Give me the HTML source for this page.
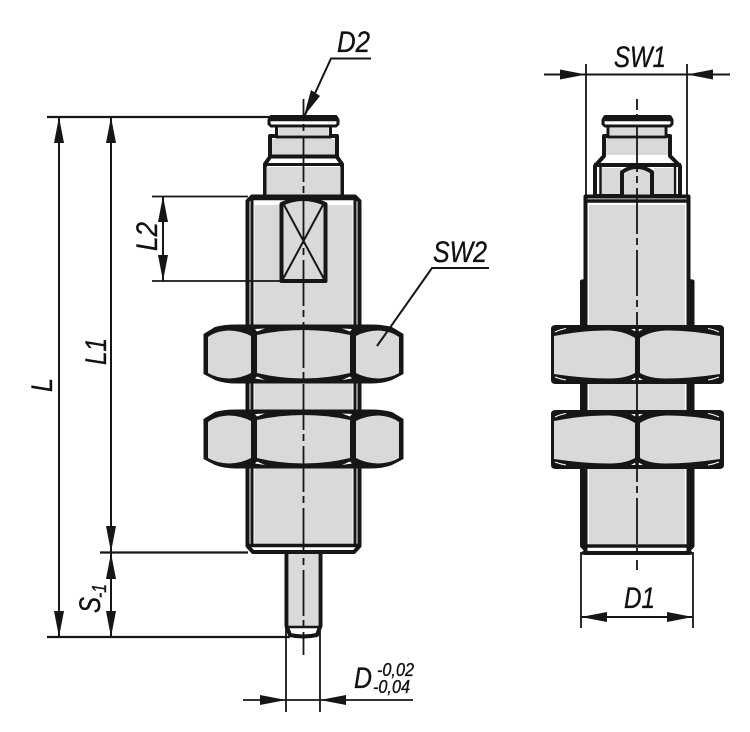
<!DOCTYPE html>
<html><head><meta charset="utf-8"><style>
html,body{margin:0;padding:0;background:#fff}
svg{display:block}
text{font-family:"Liberation Sans",sans-serif;font-style:italic;fill:#111;stroke:#111;stroke-width:.35}
</style></head><body>
<svg width="750" height="732" viewBox="0 0 750 732" xmlns="http://www.w3.org/2000/svg">
<defs>
<g id="nutL">
<path d="M203.500,334 L215,327 Q224,324.500 236,324.500 L371,324.500 Q383,324.500 392,327 L403.500,334 L403.500,374 L392,380 Q383,383.500 371,383.500 L236,383.500 Q224,383.500 215,380 L203.500,374Z" fill="#161616"/>
<path d="M208,337 Q216,331 229,330.500 Q242,331 251,336 L251,373 Q242,378 229,378.500 Q216,378 208,373Z" fill="#d9d9d9"/>
<path d="M257,335 Q280,330 303.500,330 Q327,330 350,335 L350,373 Q327,378.500 303.500,378.500 Q280,378.500 257,373Z" fill="#d9d9d9"/>
<path d="M356,336 Q365,331 378,330.500 Q391,331 399,337 L399,373 Q391,378 378,378.500 Q365,378 356,373Z" fill="#d9d9d9"/>
<path d="M255,329 L265,328.500 L257,331.500Z M352,329 L342,328.500 L350,331.500Z M255,378.500 L265,380 L257,376.500Z M352,378.500 L342,380 L350,376.500Z" fill="#fff"/>
</g>
<g id="nutR">
<path d="M551,329 Q551,325 556,325 L719,325 Q724,325 724,329 L724,380 Q724,384 719,384 L556,384 Q551,384 551,380Z" fill="#161616"/>
<path d="M554,336 Q585,330 610,330.500 Q625,331.500 635,338 L635,373 Q625,378.500 610,378.500 Q585,378.500 554,374Z" fill="#d9d9d9"/>
<path d="M720,336 Q690,330 665,330.500 Q650,331.500 640,338 L640,373 Q650,378.500 665,378.500 Q690,378.500 720,374Z" fill="#d9d9d9"/>
<path d="M631,329 L643,329 L637,332.500Z M631,380 L643,380 L637,376.500Z" fill="#fff"/>
<path d="M555,332 Q560,329.500 566,328.500 M719,332 Q714,329.500 708,328.500 M555,377 Q560,379 566,380 M719,377 Q714,379 708,380" stroke="#fff" stroke-width="1" fill="none"/>
</g>
</defs>

<!-- LEFT VIEW -->
<g fill="none" stroke="#161616" stroke-width="4" stroke-linejoin="round">
<!-- pin -->
<path d="M286.500,552 L286.500,626 L290,635 Q303,638 317,635 L320.500,626 L320.500,552" fill="#fff"/>
<rect x="289" y="553" width="29" height="73" fill="#d9d9d9" stroke="none"/>
<path d="M286,627 L321,627" stroke-width="2.500"/>
<path d="M291,634 Q303,637 316,634 L316,636 L291,636Z" fill="#161616" stroke-width="1.500"/>
<!-- cap & upper -->
<path d="M270,136 V157 L265,164 V196 H342 V164 L337,157 V136Z" fill="#fff"/>
<rect x="272" y="139" width="63" height="16" fill="#d9d9d9" stroke="none"/>
<rect x="266.500" y="167" width="74" height="28" fill="#d9d9d9" stroke="none"/>
<path d="M270,156.500 H337" />
<path d="M267,164.500 H340" stroke-width="3"/>
<rect x="276.500" y="125" width="54" height="12" fill="#fff" stroke-width="3"/>
<rect x="278.500" y="128" width="50" height="7" fill="#d9d9d9" stroke="none"/>
<path d="M271,116.500 H336 L338,120 V124 L336,126 H271 L269,124 V120Z" fill="#fff" stroke-width="3"/>
<path d="M270,117.500 H337 V120 H270Z" fill="#161616" stroke-width="2.500"/>
<!-- body -->
<path d="M252,196.500 H355 L359.500,201 V546 L354,552 H253 L247.500,546 V201Z" fill="#fff"/>
<rect x="254.500" y="205" width="98" height="339" fill="#d9d9d9" stroke="none"/>
<path d="M252,199 V546 M355,199 V546" stroke-width="3"/>
<path d="M248,545.500 H359" stroke-width="3.500"/>
<!-- flat -->
<path d="M281.500,204 Q303,194 325.500,204 V281 H281.500Z" fill="#d9d9d9"/>
<path d="M283,203 L324,279 M324,203 L283,279" stroke-width="2"/>
<path d="M250,198.500 H357" stroke-width="3.500"/>
</g>
<use href="#nutL"/>
<use href="#nutL" y="85"/>

<!-- RIGHT VIEW -->
<g fill="none" stroke="#161616" stroke-width="4" stroke-linejoin="round">
<path d="M604,136 V156 L595,166 V196 H680 V166 L670,156 V136Z" fill="#fff"/>
<rect x="606" y="139" width="62" height="16" fill="#d9d9d9" stroke="none"/>
<rect x="602" y="168" width="19" height="26" fill="#d9d9d9" stroke="none"/>
<rect x="654" y="168" width="19" height="26" fill="#d9d9d9" stroke="none"/>
<path d="M594,165 H681"/>
<path d="M600.500,166 V195 M675,166 V195" stroke-width="2.500"/>
<path d="M622,195 V172 Q637,162 652,172 V195" fill="#d9d9d9"/>
<rect x="608" y="126" width="58" height="11" fill="#fff" stroke-width="3"/>
<rect x="610" y="128" width="54" height="7" fill="#d9d9d9" stroke="none"/>
<path d="M605,116.500 H670 L672,120 V124 L670,126 H605 L603,124 V120Z" fill="#fff" stroke-width="3"/>
<path d="M604,117.500 H671 V120 H604Z" fill="#161616" stroke-width="2.500"/>
<!-- body -->
<path d="M585.500,281 L582,281.500 V546 L589,553 H686 L692.500,546 V281.500 L688.500,281" fill="#fff"/>
<path d="M585.500,196.500 H688.500 V553 H585.500Z" fill="#fff"/>
<rect x="589" y="205" width="96" height="339" fill="#d9d9d9" stroke="none"/>
<path d="M582,281.500 H586 M688,281.500 H692.500" stroke-width="3"/>
<path d="M585,201 H689" stroke-width="3.500"/>
<path d="M582,546 H692.500" stroke-width="3.500"/>
<path d="M582,553 H692" stroke-width="3.500"/>
</g>
<use href="#nutR"/>
<use href="#nutR" y="85"/>
<path d="M637,325 V384 M637,410 V469" stroke="#161616" stroke-width="3.500"/>

<!-- center lines -->
<path d="M303.500,99 V655" stroke="#161616" stroke-width="1.800" fill="none" stroke-dasharray="46 4 7 5" stroke-dashoffset="25"/>
<path d="M637,99 V570" stroke="#161616" stroke-width="1.800" fill="none" stroke-dasharray="46 4 7 5" stroke-dashoffset="35"/>

<!-- dimension lines -->
<g stroke="#161616" fill="none">
<path d="M47,117 H270" stroke-width="2.200"/>
<path d="M47,637 H290" stroke-width="2.200"/>
<path d="M100,552.500 H248" stroke-width="2.200"/>
<path d="M152,196.500 H248 M152,281 H281" stroke-width="1.800"/>
<path d="M59,117 V637 M111,117 V637 M163,196 V281" stroke-width="2"/>
<path d="M286,628 V712 M320,628 V712" stroke-width="1.800"/>
<path d="M243,700 H413" stroke-width="1.800"/>
<path d="M586,64 V196 M687,64 V196" stroke-width="1.800"/>
<path d="M544,74.500 H730" stroke-width="2"/>
<path d="M581,552 V628 M693,552 V628" stroke-width="1.800"/>
<path d="M581,617 H693" stroke-width="2"/>
<path d="M371,58.500 H331 L305,115" stroke-width="2"/>
<path d="M489,268 H432 L377,346" stroke-width="2"/>
</g>
<g fill="#161616">
<path d="M59,117 L54,143 H64Z M111,117 L106,143 H116Z M59,637 L54,611 H64Z M111,637 L106,611 H116Z"/>
<path d="M111,552 L106,526 H116Z M111,553 L106,579 H116Z"/>
<path d="M163,196 L158,222 H168Z M163,281 L158,255 H168Z"/>
<path d="M286,700 L260,695 V705Z M320,700 L346,695 V705Z"/>
<path d="M586,74.500 L560,69.500 V79.500Z M687,74.500 L713,69.500 V79.500Z"/>
<path d="M581,617 L607,612 V622Z M693,617 L667,612 V622Z"/>
<path d="M304,116 L311,90 L320,96Z"/>
</g>

<!-- labels -->
<text x="337" y="52" font-size="30" textLength="33" lengthAdjust="spacingAndGlyphs">D2</text>
<text x="614" y="67" font-size="30" textLength="52" lengthAdjust="spacingAndGlyphs">SW1</text>
<text x="433" y="262" font-size="30" textLength="54" lengthAdjust="spacingAndGlyphs">SW2</text>
<text x="624" y="608" font-size="30" textLength="31" lengthAdjust="spacingAndGlyphs">D1</text>
<text x="354" y="688" font-size="30" textLength="18" lengthAdjust="spacingAndGlyphs">D</text>
<text x="377" y="676" font-size="18" textLength="37" lengthAdjust="spacingAndGlyphs">-0,02</text>
<text x="373" y="693" font-size="18" textLength="37" lengthAdjust="spacingAndGlyphs">-0,04</text>
<text transform="translate(52,392) rotate(-90)" font-size="30" textLength="14" lengthAdjust="spacingAndGlyphs">L</text>
<text transform="translate(106,365) rotate(-90)" font-size="30" textLength="27" lengthAdjust="spacingAndGlyphs">L1</text>
<text transform="translate(157,251) rotate(-90)" font-size="30" textLength="29" lengthAdjust="spacingAndGlyphs">L2</text>
<text transform="translate(100,613) rotate(-90)" font-size="30" textLength="16" lengthAdjust="spacingAndGlyphs">S</text>
<text transform="translate(106,598) rotate(-90)" font-size="20" textLength="14" lengthAdjust="spacingAndGlyphs">-1</text>
</svg>
</body></html>
